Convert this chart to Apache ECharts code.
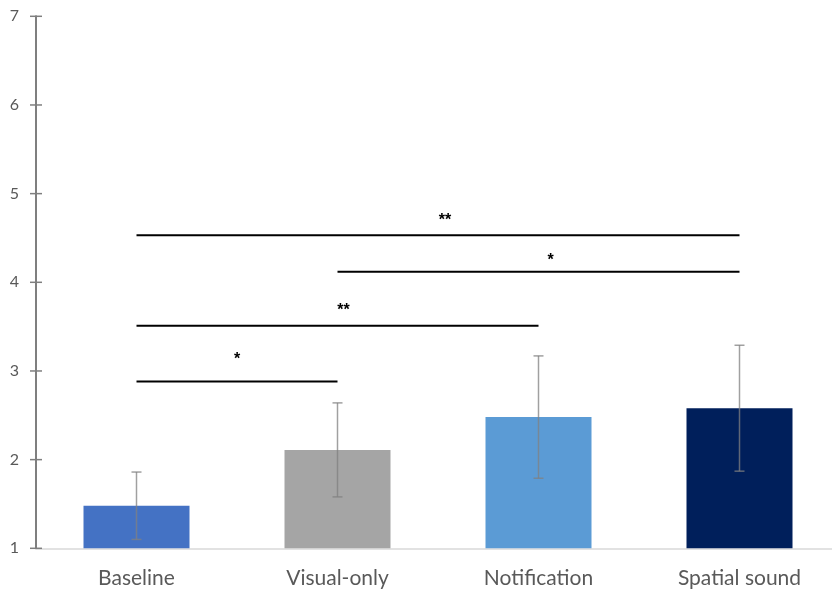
<!DOCTYPE html>
<html>
<head>
<meta charset="utf-8">
<script src="https://cdn.jsdelivr.net/npm/echarts@6/dist/echarts.min.js"></script>
<style>
  html, body { margin: 0; padding: 0; background: #ffffff; }
  #chart { width: 832px; height: 593px; }
</style>
</head>
<body>
<div id="chart"></div>
<script>
// Mean ratings per condition with standard-deviation error bars
const categories = ['Baseline', 'Visual-only', 'Notification', 'Spatial sound'];
const means = [1.48, 2.11, 2.48, 2.58];
const errors = [0.38, 0.53, 0.69, 0.71];
const barColors = ['#4472c4', '#a5a5a5', '#5b9bd5', '#001f5b'];
const yTicks = [1, 2, 3, 4, 5, 6, 7];

// Pairwise significance brackets: from-category, to-category, level, marker
const sigFrom = [0, 1, 0, 0];
const sigTo = [3, 3, 2, 1];
const sigLevel = [4.53, 4.12, 3.51, 2.88];
const sigMarks = ['**', '*', '**', '*'];
// Marker anchors (category index units, value units)
const sigMarkX = [1.535, 2.06, 1.03, 0.50];
const sigMarkY = [4.70, 4.24, 3.68, 3.13];

const chart = echarts.init(document.getElementById('chart'), null, { renderer: 'canvas' });

const font = 'Lato, "Open Sans", sans-serif';

const option = {
  animation: false,
  grid: {
    left: 36, width: 804, top: 16.3, bottom: 44.7,
    containLabel: false, outerBoundsMode: 'none'
  },
  xAxis: [
    {
      type: 'category',
      data: categories,
      axisLine: { show: true, lineStyle: { color: '#d9d9d9', width: 1.5 } },
      axisTick: { show: false },
      axisLabel: { color: '#595959', fontSize: 21, fontFamily: font, margin: 19 }
    },
    {
      type: 'value',
      min: -0.5,
      max: 3.5,
      show: false
    }
  ],
  yAxis: {
    type: 'value',
    min: yTicks[0],
    max: yTicks[yTicks.length - 1],
    interval: 1,
    axisLine: { show: true, onZero: false, lineStyle: { color: '#7f7f7f', width: 2 } },
    axisTick: { show: false },
    axisLabel: { color: '#595959', fontSize: 16, fontFamily: font, margin: 17 },
    splitLine: { show: false }
  },
  series: [
    {
      type: 'bar',
      xAxisIndex: 0,
      barWidth: 106,
      data: means.map((v, i) => ({ value: v, itemStyle: { color: barColors[i] } })),
      z: 2
    },
    {
      // value-axis tick marks crossing the axis line
      type: 'custom',
      xAxisIndex: 1,
      clip: false,
      data: yTicks.map(t => [-0.5, t]),
      renderItem: function (params, api) {
        const p = api.coord([api.value(0), api.value(1)]);
        return {
          type: 'line',
          shape: { x1: p[0] - 6, y1: p[1], x2: p[0] + 6, y2: p[1] },
          style: { stroke: '#7f7f7f', lineWidth: 1.5 }
        };
      },
      z: 6
    },
    {
      // error bars
      type: 'custom',
      xAxisIndex: 0,
      data: means.map((m, i) => [i, m - errors[i], m + errors[i]]),
      renderItem: function (params, api) {
        const lo = api.coord([api.value(0), api.value(1)]);
        const hi = api.coord([api.value(0), api.value(2)]);
        const cap = 5;
        const style = { stroke: 'rgba(128,128,128,0.75)', lineWidth: 1.5 };
        return {
          type: 'group',
          children: [
            { type: 'line', shape: { x1: lo[0], y1: lo[1], x2: hi[0], y2: hi[1] }, style: style },
            { type: 'line', shape: { x1: hi[0] - cap, y1: hi[1], x2: hi[0] + cap, y2: hi[1] }, style: style },
            { type: 'line', shape: { x1: lo[0] - cap, y1: lo[1], x2: lo[0] + cap, y2: lo[1] }, style: style }
          ]
        };
      },
      z: 3
    },
    {
      // significance brackets
      type: 'custom',
      xAxisIndex: 1,
      data: sigLevel.map((lv, i) => [sigFrom[i], sigTo[i], lv]),
      renderItem: function (params, api) {
        const a = api.coord([api.value(0), api.value(2)]);
        const b = api.coord([api.value(1), api.value(2)]);
        return {
          type: 'line',
          shape: { x1: a[0], y1: a[1], x2: b[0], y2: b[1] },
          style: { stroke: '#000000', lineWidth: 2 }
        };
      },
      z: 4
    },
    {
      // significance markers
      type: 'custom',
      xAxisIndex: 1,
      data: sigMarks.map((m, i) => [sigMarkX[i], sigMarkY[i], m]),
      renderItem: function (params, api) {
        const p = api.coord([api.value(0), api.value(1)]);
        return {
          type: 'text',
          x: p[0],
          y: p[1],
          style: {
            text: sigMarks[params.dataIndex],
            fill: '#000000',
            font: 'bold 16px "Liberation Sans", Arial, sans-serif',
            align: 'center',
            verticalAlign: 'middle'
          }
        };
      },
      z: 5
    }
  ]
};

chart.setOption(option);
</script>
</body>
</html>
